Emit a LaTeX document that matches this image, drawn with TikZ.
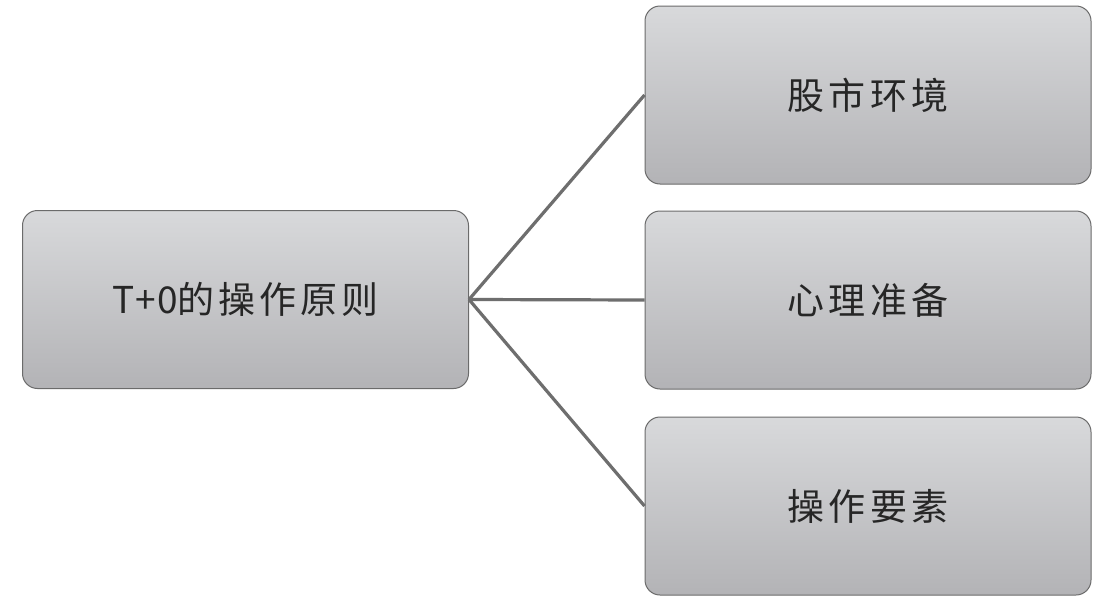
\documentclass[tikz,border=0pt]{standalone}
\usepackage{fontspec}
\newfontfamily\cjk[LetterSpace=11]{Noto Sans CJK SC}
\newfontfamily\cjklat[LetterSpace=3]{Noto Sans CJK SC}
\tikzset{
  box/.style={draw=black!58, line width=1pt, rounded corners=15pt,
    top color=boxtop, bottom color=boxbot, minimum width=446pt,
    minimum height=178pt, inner sep=0pt, font=\cjk\fontsize{37}{41}\selectfont, text=black!85},
  link/.style={draw=linkgray, line width=3.2pt}
}
\definecolor{boxtop}{HTML}{D8D9DB}
\definecolor{boxbot}{HTML}{B3B3B6}
\definecolor{linkgray}{HTML}{6E6E6E}
\begin{document}
\begin{tikzpicture}[x=1pt,y=-1pt]
\useasboundingbox[fill=white] (0,0) rectangle (1112,608);
\node[box] (root) at (245.5,299.5) {{\cjklat T+0}的操作原则};
\node[box] (a) at (868,95) {股市环境};
\node[box] (b) at (868,300) {心理准备};
\node[box] (c) at (868,506) {操作要素};
\draw[link] (root.east) -- (a.west);
\draw[link] (root.east) -- (b.west);
\draw[link] (root.east) -- (c.west);
\end{tikzpicture}
\end{document}
